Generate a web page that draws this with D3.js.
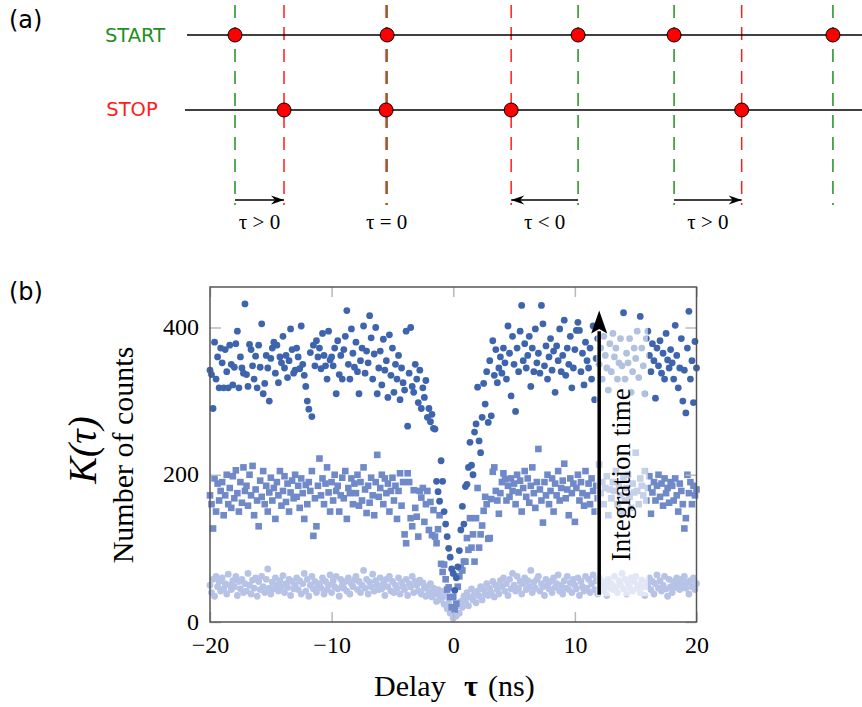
<!DOCTYPE html>
<html>
<head>
<meta charset="utf-8">
<script src="https://cdn.jsdelivr.net/npm/d3@7"></script>
<style>
  body { margin: 0; background: #fff; }
  svg { display: block; }
</style>
</head>
<body>
<div id="vis"></div>
<script>
// ---------- panel (a): start / stop timelines (arbitrary time units 0..100)
const START_TIMES = [7.25, 29.75, 58.0, 72.2, 95.7];
const STOP_TIMES = [14.5, 29.6, 48.1, 82.2];
const PAIR_LABELS = ["τ > 0", "τ = 0", "τ < 0", "τ > 0"];

// ---------- panel (b): coincidence histogram, bins every 0.125 ns from -20 to 20
const BIN_START = -20;
const BIN_WIDTH = 0.125;

// longest integration (dark circles)
const COUNTS_LONG = [
  342, 336, 290, 380, 330, 360, 318, 372,
  352, 318, 370, 340, 318, 376, 350, 322,
  346, 378, 395, 318, 360, 345, 338, 432,
  336, 320, 377, 370, 348, 330, 361, 318,
  376, 346, 405, 310, 324, 362, 345, 300,
  358, 372, 380, 338, 376, 325, 360, 352,
  388, 345, 362, 332, 355, 398, 370, 338,
  342, 372, 360, 344, 402, 350, 335, 320,
  300, 289, 366, 279, 376, 348, 382, 360,
  372, 344, 392, 362, 348, 330, 395, 356,
  360, 348, 372, 310, 382, 336, 362, 330,
  370, 388, 423, 350, 330, 398, 365, 346,
  380, 340, 310, 355, 372, 402, 338, 368,
  352, 416, 386, 330, 364, 400, 310, 345,
  368, 322, 384, 342, 355, 305, 390, 335,
  372, 312, 350, 330, 362, 302, 345, 325,
  315, 395, 266, 338, 400, 320, 312, 350,
  330, 298, 342, 290, 318, 305, 328, 278,
  290, 272, 282, 263, 262, 191, 177, 164,
  219, 191, 150, 133, 116, 100, 88, 72,
  66, 43, 60, 75, 97, 125, 157, 133,
  184, 187, 210, 244, 213, 200, 258, 269,
  319, 246, 230, 278, 324, 296, 340, 271,
  355, 280, 382, 335, 370, 325, 345, 360,
  338, 372, 352, 330, 402, 365, 307, 388,
  350, 286, 372, 340, 395, 430, 355, 378,
  345, 362, 388, 320, 372, 340, 398, 352,
  365, 338, 430, 405, 348, 375, 330, 360,
  385, 342, 368, 312, 375, 355, 398, 340,
  362, 410, 335, 372, 350, 388, 318, 345,
  370, 396, 407, 396, 340, 365, 322, 380,
  355, 345, 372, 330, 402, 302, 358, 385,
  350, 372, 330, 388, 362, 345, 315, 378,
  340, 392, 360, 372, 330, 352, 385, 348,
  420, 330, 365, 352, 385, 312, 340, 372,
  358, 395, 332, 415, 372, 348, 310, 385,
  395, 362, 340, 378, 355, 304, 372, 348,
  382, 338, 365, 330, 392, 356, 345, 370,
  352, 330, 403, 362, 318, 345, 385, 300,
  342, 284, 372, 422, 330, 355, 298, 381,
  345
];

// medium integration (squares)
const COUNTS_MID = [
  172, 160, 127, 195, 150, 188, 165, 178,
  190, 145, 172, 200, 160, 182, 155, 198,
  168, 206, 175, 150, 190, 162, 210, 178,
  185, 158, 200, 172, 212, 145, 180, 165,
  130, 192, 170, 205, 160, 185, 150, 176,
  196, 165, 182, 140, 190, 172, 205, 158,
  178, 198, 163, 188, 150, 176, 192, 168,
  200, 170, 185, 155, 195, 175, 140, 186,
  160, 190, 178, 205, 117, 168, 130, 185,
  222, 172, 195, 160, 188, 210, 176, 150,
  190, 165, 200, 178, 185, 150, 172, 196,
  168, 205, 140, 182, 175, 195, 160, 188,
  175, 200, 158, 190, 165, 210, 180, 148,
  185, 162, 196, 172, 145, 190, 227, 170,
  182, 200, 160, 195, 175, 188, 150, 178,
  196, 165, 185, 140, 178, 202, 158, 190,
  119, 107, 202, 190, 141, 130, 179, 155,
  143, 116, 178, 169, 182, 136, 160, 178,
  125, 163, 118, 152, 116, 107, 126, 145,
  79, 68, 78, 58, 44, 47, 34, 20,
  34, 17, 25, 48, 62, 73, 70, 82,
  82, 114, 98, 141, 101, 119, 82, 141,
  182, 101, 119, 131, 151, 170, 160, 113,
  114, 167, 204, 210, 178, 165, 147, 175,
  190, 202, 194, 165, 185, 170, 195, 178,
  188, 160, 200, 176, 192, 150, 182, 205,
  170, 195, 162, 185, 210, 175, 155, 190,
  235, 180, 165, 135, 190, 172, 200, 160,
  178, 195, 150, 188, 172, 205, 165, 182,
  192, 215, 168, 180, 145, 195, 175, 188,
  136, 182, 200, 165, 190, 175, 158, 205,
  172, 188, 160, 195, 178, 150, 185, 168,
  214, 175, 190, 160, 182, 198, 145, 180,
  168, 190, 178, 205, 160, 185, 172, 150,
  195, 165, 182, 200, 170, 155, 188, 176,
  230, 178, 160, 195, 185, 172, 205, 165,
  182, 198, 147, 176, 190, 165, 185, 200,
  170, 188, 158, 195, 175, 182, 162, 190,
  185, 165, 195, 172, 150, 188, 178, 160,
  127, 141, 200, 175, 190, 160, 185, 172,
  180
];

// shortest integration (light circles)
const COUNTS_SHORT = [
  50, 40, 58, 35, 62, 48, 55, 42,
  60, 45, 52, 38, 65, 50, 44, 56,
  48, 62, 36, 55, 45, 58, 40, 52,
  42, 66, 50, 38, 57, 46, 60, 35,
  55, 44, 62, 48, 40, 58, 72, 46,
  38, 54, 45, 60, 50, 42, 56, 48,
  63, 40, 52, 47, 58, 36, 55, 45,
  50, 60, 44, 56, 38, 52, 66, 42,
  58, 35, 50, 62, 45, 55, 40, 48,
  52, 46, 60, 38, 55, 44, 50, 64,
  40, 56, 48, 62, 45, 35, 58, 50,
  46, 55, 42, 60, 38, 52, 48, 57,
  62, 44, 55, 40, 50, 70, 46, 58,
  38, 54, 48, 65, 42, 56, 50, 44,
  60, 45, 52, 36, 58, 48, 62, 42,
  55, 40, 50, 46, 60, 38, 54, 48,
  44, 58, 36, 52, 48, 62, 40, 55,
  50, 42, 57, 38, 53, 46, 35, 48,
  40, 52, 34, 46, 38, 28, 44, 36,
  30, 42, 24, 35, 18, 26, 12, 20,
  5, 15, 8, 22, 12, 28, 20, 35,
  28, 40, 22, 34, 45, 30, 38, 26,
  42, 35, 48, 30, 44, 38, 52, 36,
  46, 40, 55, 34, 50, 44, 38, 56,
  48, 60, 42, 52, 36, 58, 45, 66,
  50, 42, 62, 46, 55, 38, 52, 60,
  44, 56, 48, 70, 40, 54, 46, 58,
  62, 42, 52, 48, 36, 58, 50, 45,
  55, 40, 60, 47, 52, 64, 42, 50,
  38, 56, 46, 62, 44, 53, 40, 58,
  50, 45, 60, 36, 55, 48, 42, 62,
  46, 58, 40, 52, 64, 44, 56, 38,
  60, 48, 55, 42, 50, 36, 58, 46,
  52, 44, 62, 48, 40, 56, 50, 66,
  45, 58, 38, 53, 47, 60, 42, 55,
  62, 46, 50, 40, 57, 48, 36, 54,
  48, 60, 44, 55, 38, 52, 64, 46,
  56, 42, 50, 62, 45, 35, 58, 48,
  40, 55, 47, 60, 52, 44, 58, 50,
  62, 46, 54, 38, 56, 48, 60, 44,
  52
];

const X_TICKS = [-20, -10, 0, 10, 20];
const Y_TICKS = [0, 200, 400];

const WIDTH = 862, HEIGHT = 707;
const SERIF = "'Liberation Serif', 'Times New Roman', serif";
const SANS = "'DejaVu Sans', Verdana, sans-serif";
const GREEN = "#1f8f1f", RED = "#ff1c1c";

const svg = d3.select("#vis").append("svg")
  .attr("width", WIDTH)
  .attr("height", HEIGHT);

// ================= panel (a)
const tx = d3.scaleLinear().domain([0, 100]).range([186, 862]);
const START_Y = 35, STOP_Y = 110, LINE_TOP = 5, LINE_BOT = 205, ARROW_Y = 200;

svg.append("text").attr("x", 9).attr("y", 28)
  .attr("font-family", SANS).attr("font-size", 24).text("(a)");

svg.append("text").attr("x", 135).attr("y", 42).attr("text-anchor", "middle")
  .attr("font-family", SANS).attr("font-size", 19.5).attr("fill", GREEN).text("START");
svg.append("text").attr("x", 132).attr("y", 116).attr("text-anchor", "middle")
  .attr("font-family", SANS).attr("font-size", 19.5).attr("fill", RED).text("STOP");

const gA = svg.append("g");

// dashed guides: green for start, red for stop
gA.selectAll("line.start-guide").data(START_TIMES).enter().append("line")
  .attr("x1", d => tx(d)).attr("x2", d => tx(d))
  .attr("y1", LINE_TOP).attr("y2", LINE_BOT)
  .attr("stroke", GREEN).attr("stroke-width", 1.5)
  .attr("stroke-dasharray", "13,9");
gA.selectAll("line.stop-guide").data(STOP_TIMES).enter().append("line")
  .attr("x1", d => tx(d)).attr("x2", d => tx(d))
  .attr("y1", LINE_TOP).attr("y2", LINE_BOT)
  .attr("stroke", RED).attr("stroke-width", 1.5)
  .attr("stroke-dasharray", "13,9");

// timelines
gA.append("line").attr("x1", 187).attr("x2", WIDTH).attr("y1", START_Y).attr("y2", START_Y)
  .attr("stroke", "#000").attr("stroke-width", 1.5);
gA.append("line").attr("x1", 185).attr("x2", WIDTH).attr("y1", STOP_Y).attr("y2", STOP_Y)
  .attr("stroke", "#000").attr("stroke-width", 1.5);

gA.selectAll("circle.start").data(START_TIMES).enter().append("circle")
  .attr("cx", d => tx(d)).attr("cy", START_Y).attr("r", 7)
  .attr("fill", "#ff0000").attr("stroke", "#000").attr("stroke-width", 1);
gA.selectAll("circle.stop").data(STOP_TIMES).enter().append("circle")
  .attr("cx", d => tx(d)).attr("cy", STOP_Y).attr("r", 7)
  .attr("fill", "#ff0000").attr("stroke", "#000").attr("stroke-width", 1);

svg.append("defs").append("marker")
  .attr("id", "head").attr("viewBox", "-14 -5 15 10")
  .attr("refX", 0).attr("refY", 0)
  .attr("markerWidth", 15).attr("markerHeight", 10)
  .attr("markerUnits", "userSpaceOnUse").attr("orient", "auto")
  .append("path").attr("d", "M0,0 L-13,-4.5 L-9,0 L-13,4.5 Z").attr("fill", "#000");

PAIR_LABELS.forEach((lab, i) => {
  const a = START_TIMES[i], b = STOP_TIMES[i];
  if (Math.abs(a - b) > 1) {
    gA.append("line")
      .attr("x1", tx(a)).attr("x2", tx(b))
      .attr("y1", ARROW_Y).attr("y2", ARROW_Y)
      .attr("stroke", "#000").attr("stroke-width", 1.5)
      .attr("marker-end", "url(#head)");
  }
  gA.append("text")
    .attr("x", (tx(a) + tx(b)) / 2).attr("y", 229)
    .attr("text-anchor", "middle")
    .attr("font-family", SERIF).attr("font-size", 21)
    .text(lab);
});

// ================= panel (b)
svg.append("text").attr("x", 9).attr("y", 300)
  .attr("font-family", SANS).attr("font-size", 24).text("(b)");

const x = d3.scaleLinear().domain([-20, 20]).range([210, 696.5]);
const y = d3.scaleLinear().domain([0, 455]).range([622, 287]);

const delays = COUNTS_LONG.map((_, i) => BIN_START + i * BIN_WIDTH);

const plot = svg.append("g");

plot.append("g").selectAll("circle").data(COUNTS_SHORT).enter().append("circle")
  .attr("cx", (d, i) => x(delays[i])).attr("cy", d => y(d))
  .attr("r", 3.4).attr("fill", "#b7c3e6");

plot.append("g").selectAll("rect").data(COUNTS_MID).enter().append("rect")
  .attr("x", (d, i) => x(delays[i]) - 3.3).attr("y", d => y(d) - 3.3)
  .attr("width", 6.6).attr("height", 6.6).attr("fill", "#6f89c9");

plot.append("g").selectAll("circle").data(COUNTS_LONG).enter().append("circle")
  .attr("cx", (d, i) => x(delays[i])).attr("cy", d => y(d))
  .attr("r", 3.4).attr("fill", "#3d64ad");

// translucent label background
plot.append("rect")
  .attr("x", x(11.75)).attr("y", y(405))
  .attr("width", x(16) - x(11.75)).attr("height", y(35) - y(405))
  .attr("fill", "#fff").attr("opacity", 0.6);

// axes with inward ticks
const xAxis = d3.axisBottom(x).tickValues(X_TICKS).tickSize(-10).tickPadding(0);
const xTop = d3.axisTop(x).tickValues(X_TICKS).tickSize(-10).tickFormat("");
const yAxis = d3.axisLeft(y).tickValues(Y_TICKS).tickSize(-11).tickPadding(0);
const yRight = d3.axisRight(y).tickValues(Y_TICKS).tickSize(-11).tickFormat("");

const gx = svg.append("g").attr("transform", "translate(0,622)").call(xAxis);
svg.append("g").attr("transform", "translate(0,287)").call(xTop);
const gy = svg.append("g").attr("transform", "translate(210,0)").call(yAxis);
svg.append("g").attr("transform", "translate(696.5,0)").call(yRight);

svg.selectAll(".domain").remove();
svg.selectAll(".tick line").attr("stroke", "#b9b9b9").attr("stroke-width", 1.5);

gx.selectAll("text").attr("y", 31).attr("dy", null)
  .attr("font-family", SERIF).attr("font-size", 24).attr("fill", "#000");
gy.selectAll("text").attr("x", -11).attr("dy", 7)
  .attr("font-family", SERIF).attr("font-size", 24).attr("fill", "#000");

// frame
svg.append("rect")
  .attr("x", 210).attr("y", 287).attr("width", 486.5).attr("height", 335)
  .attr("fill", "none").attr("stroke", "#555").attr("stroke-width", 1.5);

// integration-time arrow
svg.append("line")
  .attr("x1", x(12)).attr("x2", x(12))
  .attr("y1", y(37)).attr("y2", y(395))
  .attr("stroke", "#000").attr("stroke-width", 3.5);
svg.append("path")
  .attr("d", `M${x(12)},${y(423)} L${x(12) - 8},${y(392)} L${x(12)},${y(398)} L${x(12) + 8},${y(392)} Z`)
  .attr("fill", "#000");

svg.append("text")
  .attr("transform", `translate(${x(14.5)},${y(200)}) rotate(-90)`)
  .attr("text-anchor", "middle")
  .attr("font-family", SERIF).attr("font-size", 27)
  .text("Integration time");

// axis titles
svg.append("text")
  .attr("transform", "translate(133,455) rotate(-90)")
  .attr("text-anchor", "middle")
  .attr("font-family", SERIF).attr("font-size", 30)
  .text("Number of counts");
svg.append("text")
  .attr("transform", "translate(96,450) rotate(-90)")
  .attr("text-anchor", "middle")
  .attr("font-family", SERIF).attr("font-size", 40).attr("font-style", "italic")
  .text("K(τ)");

const xt = svg.append("text").attr("y", 696)
  .attr("font-family", SERIF).attr("font-size", 30);
xt.append("tspan").attr("x", 374).text("Delay");
xt.append("tspan").attr("x", 464).attr("font-weight", "bold").text("τ");
xt.append("tspan").attr("x", 488).text("(ns)");
</script>
</body>
</html>
